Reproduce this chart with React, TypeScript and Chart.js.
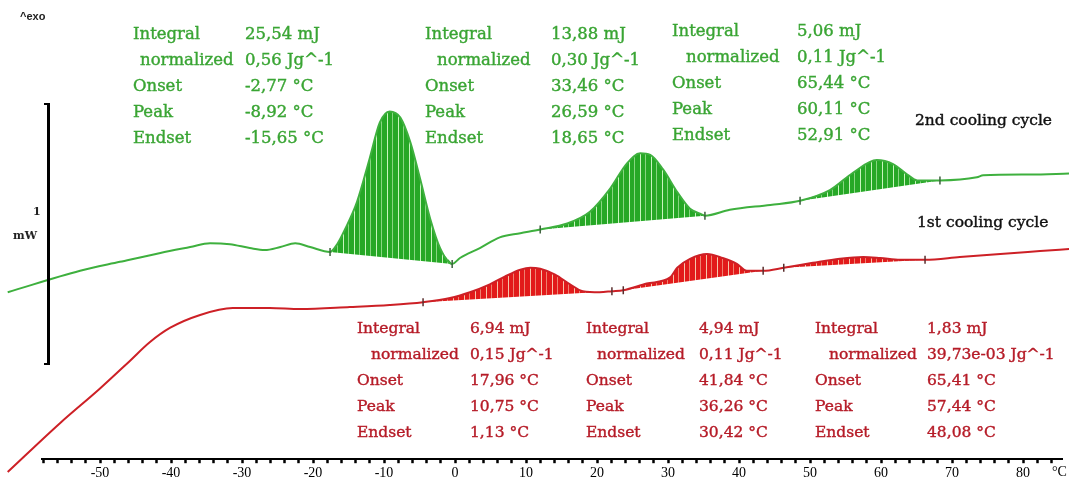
import React, { useEffect, useRef } from "react";
import { Chart, registerables } from "chart.js";

Chart.register(...registerables);

// ---- data (temperature in °C, heat flow in mW, exo up) ----
const tempGreen = [-63.0, -52.8, -47.2, -41.5, -37.3, -34.5, -31.7, -28.9, -26.8, -24.6, -22.5, -20.4, -17.6, -16.6, -15.5, -13.8, -12.0, -10.6, -9.2, -7.7, -6.3, -4.9, -3.5, -2.1, -0.4, 0.7, 3.5, 6.3, 9.2, 12.0, 15.8, 19.0, 21.8, 24.2, 26.1, 27.5, 29.3, 31.3, 33.1, 34.5, 35.2, 38.7, 44.4, 48.6, 52.8, 56.1, 59.4, 61.7, 63.7, 65.1, 68.3, 73.5, 74.4, 81.0, 86.5];
const flowGreen = [0.654, 0.738, 0.773, 0.808, 0.831, 0.846, 0.842, 0.827, 0.819, 0.831, 0.846, 0.831, 0.812, 0.842, 0.900, 1.008, 1.180, 1.318, 1.362, 1.338, 1.242, 1.096, 0.942, 0.827, 0.765, 0.788, 0.827, 0.869, 0.885, 0.900, 0.923, 0.969, 1.058, 1.158, 1.198, 1.192, 1.135, 1.046, 0.981, 0.962, 0.954, 0.977, 0.996, 1.012, 1.054, 1.123, 1.172, 1.156, 1.115, 1.092, 1.092, 1.104, 1.112, 1.115, 1.119];

const tempRed = [-63.0, -55.6, -50.0, -45.8, -43.0, -40.1, -35.9, -31.3, -26.1, -21.8, -14.8, -9.2, -4.5, -0.7, 2.1, 4.9, 7.0, 9.2, 10.6, 12.0, 14.1, 16.2, 18.0, 20.4, 22.1, 23.7, 27.0, 30.3, 31.3, 33.1, 35.5, 37.7, 39.7, 41.1, 43.4, 46.3, 50.4, 54.2, 57.5, 59.9, 62.7, 66.2, 71.1, 76.8, 82.4, 86.5];
const flowRed = [-0.05, 0.142, 0.277, 0.385, 0.458, 0.515, 0.565, 0.592, 0.592, 0.588, 0.596, 0.604, 0.615, 0.631, 0.654, 0.685, 0.715, 0.742, 0.750, 0.746, 0.723, 0.685, 0.658, 0.654, 0.658, 0.662, 0.688, 0.712, 0.750, 0.785, 0.804, 0.788, 0.765, 0.738, 0.738, 0.750, 0.769, 0.785, 0.792, 0.788, 0.781, 0.781, 0.792, 0.804, 0.815, 0.823];

// integration limits (baseline start / end) of each peak
const greenPeaks = [[-17.6, -0.4], [12.0, 35.2], [48.6, 68.3]];
const redPeaks = [[-4.5, 22.1], [23.7, 43.4], [46.3, 66.2]];

const xMin = -58.17;
const xMax = 85.49;
const yMin = 0;
const yMax = 1.777;

const statLabels = ["Integral", "normalized", "Onset", "Peak", "Endset"];
const greenValues = [
  ["25,54 mJ", "0,56 Jg^-1", "-2,77 °C", "-8,92 °C", "-15,65 °C"],
  ["13,88 mJ", "0,30 Jg^-1", "33,46 °C", "26,59 °C", "18,65 °C"],
  ["5,06 mJ", "0,11 Jg^-1", "65,44 °C", "60,11 °C", "52,91 °C"],
];
const redValues = [
  ["6,94 mJ", "0,15 Jg^-1", "17,96 °C", "10,75 °C", "1,13 °C"],
  ["4,94 mJ", "0,11 Jg^-1", "41,84 °C", "36,26 °C", "30,42 °C"],
  ["1,83 mJ", "39,73e-03 Jg^-1", "65,41 °C", "57,44 °C", "48,08 °C"],
];

// ---- layout / style ----
const GREEN_LINE = "rgb(62,176,62)";
const RED_LINE = "rgb(205,32,38)";
const GREEN_TEXT = "rgb(58,165,52)";
const RED_TEXT = "rgb(182,28,40)";
const TEXT_FONT = "'DejaVu Serif', serif";

const greenBlockPos = [
  { lx: 133, nx: 140, vx: 245, ys: [34, 60, 86, 112, 138], size: 16.5 },
  { lx: 425, nx: 437, vx: 551, ys: [34, 60, 86, 112, 138], size: 16.5 },
  { lx: 672, nx: 686, vx: 797, ys: [31, 57, 83, 109, 135], size: 16.5 },
];
const redBlockPos = [
  { lx: 357, nx: 371, vx: 470, ys: [328, 354, 380, 406, 432], size: 15.5 },
  { lx: 586, nx: 597, vx: 699, ys: [328, 354, 380, 406, 432], size: 15.5 },
  { lx: 815, nx: 829, vx: 927, ys: [328, 354, 380, 406, 432], size: 15.5 },
];

function toPoints(ts: number[], vs: number[]) {
  return ts.map((t, i) => ({ x: t, y: vs[i] }));
}

function makeStripes(base: string, stripe: string) {
  const c = document.createElement("canvas");
  c.width = 11;
  c.height = 2;
  const g = c.getContext("2d")!;
  g.fillStyle = base;
  g.fillRect(0, 0, 11, 2);
  g.fillStyle = stripe;
  g.fillRect(2, 0, 1, 2);
  g.globalAlpha = 0.6;
  g.fillRect(7, 0, 1, 2);
  return g.createPattern(c, "repeat")!;
}

export default function App() {
  const ref = useRef<HTMLCanvasElement | null>(null);

  useEffect(() => {
    const canvas = ref.current!;
    const greenPts = toPoints(tempGreen, flowGreen);
    const redPts = toPoints(tempRed, flowRed);
    const greenPattern = makeStripes("rgb(38,168,38)", "rgb(200,245,190)");
    const redPattern = makeStripes("rgb(226,26,26)", "rgb(246,196,170)");

    const peakSets = (pts: { x: number; y: number }[], peaks: number[][], bg: any) =>
      peaks.map(([a, b]) => ({
        data: pts.filter((p) => p.x >= a && p.x <= b),
        fill: "shape",
        backgroundColor: bg,
        borderWidth: 0,
        pointRadius: 0,
        cubicInterpolationMode: "monotone",
        order: 3,
      }));

    const markerSet = (pts: { x: number; y: number }[], peaks: number[][], color: string) => ({
      data: pts.filter((p) => peaks.some(([a, b]) => p.x === a || p.x === b)),
      showLine: false,
      pointStyle: "line",
      rotation: 90,
      pointRadius: 4,
      pointBorderWidth: 1.5,
      pointBorderColor: color,
      borderColor: color,
      order: 0,
    });

    const chart = new Chart(canvas, {
      type: "line",
      data: {
        datasets: [
          ...peakSets(greenPts, greenPeaks, greenPattern),
          ...peakSets(redPts, redPeaks, redPattern),
          {
            data: greenPts,
            borderColor: GREEN_LINE,
            borderWidth: 2,
            pointRadius: 0,
            fill: false,
            cubicInterpolationMode: "monotone",
            clip: false,
            order: 1,
          },
          {
            data: redPts,
            borderColor: RED_LINE,
            borderWidth: 2,
            pointRadius: 0,
            fill: false,
            cubicInterpolationMode: "monotone",
            clip: false,
            order: 1,
          },
          markerSet(greenPts, greenPeaks, "rgb(60,95,60)"),
          markerSet(redPts, redPeaks, "rgb(90,45,45)"),
        ] as any,
      },
      options: {
        responsive: false,
        animation: false,
        events: [],
        layout: { padding: { left: 42, right: 7, top: 0, bottom: 4 } },
        plugins: { legend: { display: false }, tooltip: { enabled: false } },
        scales: {
          x: {
            type: "linear",
            min: xMin,
            max: xMax,
            border: { display: true, color: "#000", width: 2 },
            grid: {
              display: true,
              drawOnChartArea: false,
              drawTicks: true,
              tickLength: 4,
              tickWidth: 2.5,
              tickColor: "#000",
            },
            ticks: {
              stepSize: 2,
              includeBounds: false,
              autoSkip: false,
              maxRotation: 0,
              padding: 2,
              color: "#000",
              font: { family: "'Liberation Serif', serif", size: 14 },
              callback: (v: any) => (Number(v) % 10 === 0 ? String(v) : ""),
            },
          },
          y: { type: "linear", display: false, min: yMin, max: yMax },
        },
      },
    });
    return () => chart.destroy();
  }, []);

  const txt = (s: string, x: number, y: number, color: string, key: string, size = 16.5) => (
    <div
      key={key}
      style={{
        position: "absolute",
        left: x,
        top: y - 10,
        lineHeight: "20px",
        fontSize: size,
        fontFamily: TEXT_FONT,
        color,
        whiteSpace: "nowrap",
        WebkitTextStroke: "0.4px " + color,
      }}
    >
      {s}
    </div>
  );

  const block = (vals: string[], pos: any, color: string, key: string) => (
    <React.Fragment key={key}>
      {statLabels.map((l, i) => txt(l, i === 1 ? pos.nx : pos.lx, pos.ys[i], color, key + "l" + i, pos.size))}
      {vals.map((v, i) => txt(v, pos.vx, pos.ys[i], color, key + "v" + i, pos.size))}
    </React.Fragment>
  );

  return (
    <div style={{ position: "fixed", left: 0, top: 0, width: 1069, height: 488, background: "#fff", overflow: "hidden" }}>
      <canvas ref={ref} width={1069} height={488} style={{ position: "absolute", left: 0, top: 0, display: "block" }} />
      <div style={{ position: "absolute", left: 0, top: 0, width: 1069, height: 488, pointerEvents: "none" }}>
        {greenValues.map((v, i) => block(v, greenBlockPos[i], GREEN_TEXT, "g" + i))}
        {redValues.map((v, i) => block(v, redBlockPos[i], RED_TEXT, "r" + i))}
        {txt("2nd cooling cycle", 915, 120, "#111", "c2", 15.5)}
        {txt("1st cooling cycle", 917, 222, "#111", "c1", 15.5)}
        <div style={{ position: "absolute", left: 20, top: 10, fontFamily: "'Liberation Sans', sans-serif", fontSize: 11, fontWeight: "bold", color: "#222" }}>^exo</div>
        <div style={{ position: "absolute", left: 33, top: 205, fontFamily: "'DejaVu Serif', serif", fontSize: 11, fontWeight: "bold", color: "#222" }}>1</div>
        <div style={{ position: "absolute", left: 13, top: 229, fontFamily: "'DejaVu Serif', serif", fontSize: 11, fontWeight: "bold", color: "#222" }}>mW</div>
        <div style={{ position: "absolute", left: 44, top: 103, width: 3, height: 258, borderTop: "2px solid #000", borderBottom: "2px solid #000", borderRight: "3px solid #000" }} />
        <div style={{ position: "absolute", left: 1052, top: 464, fontFamily: "'Liberation Serif', serif", fontSize: 14, color: "#000" }}>°C</div>
      </div>
    </div>
  );
}
